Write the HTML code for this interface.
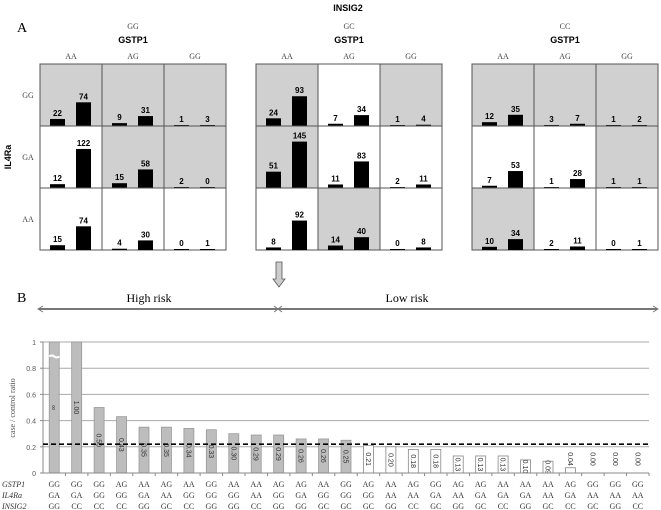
<!DOCTYPE html>
<html><head><meta charset="utf-8"><style>
body{margin:0;background:#fff}
svg{display:block}
.ser{font-family:"Liberation Serif",serif}
.sans{font-family:"Liberation Sans",sans-serif}
</style></head><body>
<svg id="fig" width="661" height="510" viewBox="0 0 661 510">
<g id="panelA"></g>
<g id="panelB"></g>
</svg>
<script>
const NS="http://www.w3.org/2000/svg";
function mk(p,tag,at,txt){const e=document.createElementNS(NS,tag);for(const k in at)e.setAttribute(k,at[k]);if(txt!==undefined)e.textContent=txt;p.appendChild(e);return e;}

// ---- Panel A data ----
const insigGroups=["GG","GC","CC"];
const gstpCols=["AA","AG","GG"];
const il4Rows=["GG","GA","AA"];
const countsG1=[[[22,74],[9,31],[1,3]],[[12,122],[15,58],[2,0]],[[15,74],[4,30],[0,1]]];
const countsG2=[[[24,93],[7,34],[1,4]],[[51,145],[11,83],[2,11]],[[8,92],[14,40],[0,8]]];
const countsG3=[[[12,35],[3,7],[1,2]],[[7,53],[1,28],[1,1]],[[10,34],[2,11],[0,1]]];
const shadeG1=[[1,1,1],[0,1,1],[0,0,0]];
const shadeG2=[[1,0,1],[1,0,0],[0,1,0]];
const shadeG3=[[1,1,1],[0,0,1],[1,0,0]];
const counts=[countsG1,countsG2,countsG3];
const shades=[shadeG1,shadeG2,shadeG3];

const A=document.getElementById('panelA');
let t=mk(A,'text',{x:17,y:32,'font-size':14,class:'ser'},'A');

t=mk(A,'text',{x:348,y:11,'font-size':9,'font-weight':'bold','text-anchor':'middle',class:'sans'},'INSIG2');

t=mk(A,'text',{x:0,y:0,'font-size':9,'font-weight':'bold','text-anchor':'middle',class:'sans',transform:'translate(11,157) rotate(-90)'},'IL4Ra');

const gridX=[40,256,472];const gy0=64,cw=62,ch=62,scale=0.32;
il4Rows.forEach((r,i)=>{const e=mk(A,'text',{x:28,y:gy0+ch*i+ch/2+3,'font-size':8,'text-anchor':'middle',class:'ser',fill:'#444'},r);
});
insigGroups.forEach((g,gi)=>{
  const gx=gridX[gi];
  const G=mk(A,'g',{});
  
  let e=mk(G,'text',{x:gx+93,y:29,'font-size':8,'text-anchor':'middle',class:'ser',fill:'#444'},g);
  
  e=mk(G,'text',{x:gx+93,y:43,'font-size':9,'font-weight':'bold','text-anchor':'middle',class:'sans'},'GSTP1');
  
  gstpCols.forEach((c,ci)=>{const l=mk(G,'text',{x:gx+cw*ci+cw/2,y:59,'font-size':8,'text-anchor':'middle',class:'ser',fill:'#444'},c);
    });
  for(let ri=0;ri<3;ri++)for(let ci=0;ci<3;ci++){
    const x=gx+cw*ci,y=gy0+ch*ri;
    const cell=mk(G,'rect',{x:x,y:y,width:cw,height:ch,fill:shades[gi][ri][ci]?'#d0d0d0':'#fff',stroke:'#555','stroke-width':1});
    
    const v=counts[gi][ri][ci];
    v.forEach((n,k)=>{
      const bx=x+10+k*26,h=Math.max(1,n*scale),by=y+ch-h;
      const b=mk(G,'rect',{x:bx,y:by,width:15,height:h,fill:'#000'});
      
      const l=mk(G,'text',{x:bx+7.5,y:by-3,'font-size':8,'font-weight':'bold','text-anchor':'middle',class:'sans'},String(n));
      
    });
  }
});
const arr=mk(A,'path',{d:'M276 262 H282 V279 H285 L279 287 L273 279 H276 Z',fill:'#ccc',stroke:'#555','stroke-width':0.8});


// ---- Panel B data ----
const ratios=[1,1.00,0.50,0.43,0.35,0.35,0.34,0.33,0.30,0.29,0.29,0.26,0.26,0.25,0.21,0.20,0.18,0.18,0.13,0.13,0.13,0.10,0.09,0.04,0.00,0.00,0.00];
const ratioLabels=["∞","1.00","0.50","0.43","0.35","0.35","0.34","0.33","0.30","0.29","0.29","0.26","0.26","0.25","0.21","0.20","0.18","0.18","0.13","0.13","0.13","0.10","0.09","0.04","0.00","0.00","0.00"];
const gstp1Cat=["GG","GG","GG","AG","AA","AG","AA","GG","AA","AA","AG","AG","AA","GG","AG","AA","AG","GG","AG","AG","AA","AA","AA","AG","GG","GG","GG"];
const il4raCat=["GA","GA","GG","GG","GA","AA","GG","GG","GG","AA","GG","GA","GG","GG","GG","AA","AA","GA","AA","GA","GA","GA","AA","GA","AA","AA","AA"];
const insig2Cat=["GG","CC","CC","CC","GG","GC","CC","GG","GG","CC","GG","GG","GC","GC","GC","GG","CC","GC","GG","GC","CC","GG","GC","CC","GC","GG","CC"];
const yTicks=[0,0.2,0.4,0.6,0.8,1];
const yTickLabels=["0","0.2","0.4","0.6","0.8","1"];
const threshold=0.22;
const highRiskCount=14;

const B=document.getElementById('panelB');
const px0=43,px1=649,py0=473,py1=342;
const yS=v=>py0-(py0-py1)*v;
const step=(px1-px0)/ratios.length;
const xS=i=>px0+step*(i+0.5);

t=mk(B,'text',{x:17,y:302,'font-size':14,class:'ser'},'B');

const mid=278;
let ln=mk(B,'line',{x1:39,y1:309,x2:mid,y2:309,stroke:'#777','stroke-width':2});

ln=mk(B,'line',{x1:mid,y1:309,x2:657,y2:309,stroke:'#777','stroke-width':2});

mk(B,'path',{d:`M43 306 L38 309 L43 312 M653 306 L658 309 L653 312 M${mid-4} 306 L${mid} 309 L${mid-4} 312 M${mid+4} 306 L${mid} 309 L${mid+4} 312`,stroke:'#777',fill:'none','stroke-width':1});
t=mk(B,'text',{x:149,y:302,'font-size':12,'text-anchor':'middle',class:'ser'},'High risk');

t=mk(B,'text',{x:407,y:302,'font-size':12,'text-anchor':'middle',class:'ser'},'Low risk');


yTicks.forEach((v,i)=>{
  if(v>0){const g=mk(B,'line',{x1:px0,y1:yS(v),x2:px1,y2:yS(v),stroke:'#aaa','stroke-width':1});
  }
  const l=mk(B,'text',{x:36,y:yS(v)+3,'font-size':7,'text-anchor':'end',class:'sans',fill:'#555'},yTickLabels[i]);
  
  mk(B,'line',{x1:px0-3,y1:yS(v),x2:px0,y2:yS(v),stroke:'#888'});
});
t=mk(B,'text',{x:0,y:0,'font-size':8,'text-anchor':'middle',class:'ser',fill:'#555',transform:'translate(15,408) rotate(-90)'},'case / control ratio');

mk(B,'line',{x1:px0,y1:py1,x2:px0,y2:py0,stroke:'#888'});

ratios.forEach((v,i)=>{
  const high=i<highRiskCount,bw=10,x=xS(i)-bw/2,y=yS(v),h=py0-y;
  const b=mk(B,'rect',{x:x,y:y,width:bw,height:Math.max(h,0),fill:high?'#bdbdbd':'#fff',stroke:high?'#999':'#888','stroke-width':0.8});
  
  const cy=v>0.06?(y+py0)/2:py0-14;
  const l=mk(B,'text',{x:0,y:0,'font-size':7,'text-anchor':'middle',class:'sans',fill:'#333',transform:`translate(${xS(i)-2.5},${cy}) rotate(90)`},ratioLabels[i]);
  
  mk(B,'line',{x1:px0+step*(i+1),y1:py0,x2:px0+step*(i+1),y2:py0+3,stroke:'#888'});
  [gstp1Cat,il4raCat,insig2Cat].forEach((arr,r)=>{
    const c=mk(B,'text',{x:xS(i),y:487+r*11,'font-size':8,'text-anchor':'middle',class:'ser',fill:'#333'},arr[i]);
    
  });
});
const br=mk(B,'path',{d:`M${xS(0)-5} ${yS(0.89)} q2.5 -2 5 0 t5 0`,stroke:'#fff','stroke-width':2,fill:'none'});

mk(B,'line',{x1:px0,y1:py0,x2:px1,y2:py0,stroke:'#888'});
const th=mk(B,'line',{x1:px0,y1:yS(threshold),x2:px1,y2:yS(threshold),stroke:'#000','stroke-width':1.6,'stroke-dasharray':'5,3'});

['GSTP1','IL4Ra','INSIG2'].forEach((n,r)=>{
  const l=mk(B,'text',{x:2,y:487+r*11,'font-size':8,'font-style':'italic',class:'ser',fill:'#333'},n);
  
});
</script>
</body></html>
